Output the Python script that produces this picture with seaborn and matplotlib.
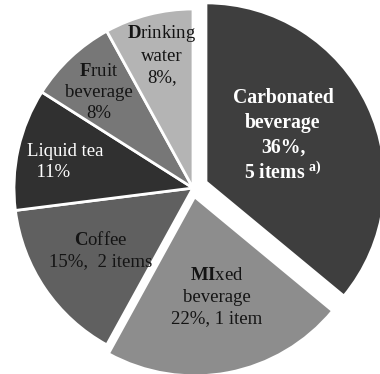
import matplotlib
matplotlib.use("Agg")
import matplotlib.pyplot as plt
import seaborn as sns

# Beverage categories, clockwise from 12 o'clock
categories = ["Carbonated beverage", "MIxed beverage", "Coffee",
              "Liquid tea", "Fruit beverage", "Drinking water"]
shares = [36, 22, 15, 11, 8, 8]          # percent of products
items = [5, 1, 2, None, None, None]       # number of items where reported

sns.set_theme(style="white")
plt.rcParams["font.family"] = ["Liberation Serif", "DejaVu Serif"]
plt.rcParams["mathtext.fontset"] = "custom"
plt.rcParams["mathtext.rm"] = "Liberation Serif"
plt.rcParams["mathtext.it"] = "Liberation Serif:italic"
plt.rcParams["mathtext.bf"] = "Liberation Serif:bold"

greys = sns.color_palette(["#3e3e3e", "#8d8d8d", "#606060",
                           "#303030", "#777777", "#b4b4b4"])
explode = [0.08, 0.05, 0, 0, 0, 0]

W, H = 380, 374
fig = plt.figure(figsize=(W / 100, H / 100), dpi=100)
ax = fig.add_axes([0, 0, 1, 1])

R = 179.0
cx, cy = 193.0, 188.0   # pie centre in pixels from the top-left
ax.pie(shares, explode=explode, colors=greys, startangle=90,
       counterclock=False, radius=1.0,
       wedgeprops=dict(edgecolor="white", linewidth=2.0))
ax.set_xlim(-cx / R, (W - cx) / R)
ax.set_ylim(-(H - cy) / R, cy / R)
ax.set_aspect("equal")
ax.axis("off")

# label text built from the data
labels = [
    "Carbonated\nbeverage\n{}%,\n{} items ${{}}^{{\\mathbf{{a)}}}}$".format(shares[0], items[0]),
    "$\\mathbf{{MI}}$xed\nbeverage\n{}%, {} item".format(shares[1], items[1]),
    "$\\mathbf{{C}}$offee\n{}%,  {} items".format(shares[2], items[2]),
    "Liquid tea\n  {}%".format(shares[3]),
    "$\\mathbf{{F}}$ruit\nbeverage\n{}%".format(shares[4]),
    "$\\mathbf{{D}}$rinking\nwater\n{}%,".format(shares[5]),
]
# label anchor points in pixels (x, y from top)
anchors = [(283, 136), (217, 297), (101, 251), (27, 162), (99, 92.5), (162, 54.5)]
aligns = ["center", "center", "center", "left", "center", "center"]
colors = ["white", "#141414", "#141414", "white", "#141414", "#141414"]
weights = ["bold", "normal", "normal", "normal", "normal", "normal"]
sizes = [14.2, 13.5, 13.5, 13.5, 13.5, 13.5]

for lab, (px, py), ha, col, wt, fs in zip(labels, anchors, aligns, colors,
                                          weights, sizes):
    ax.text((px - cx) / R, (cy - py) / R, lab, ha=ha, va="center",
            multialignment=ha, color=col, fontsize=fs, fontweight=wt,
            linespacing=1.32)

fig.savefig("out.png", dpi=100, facecolor="white")
